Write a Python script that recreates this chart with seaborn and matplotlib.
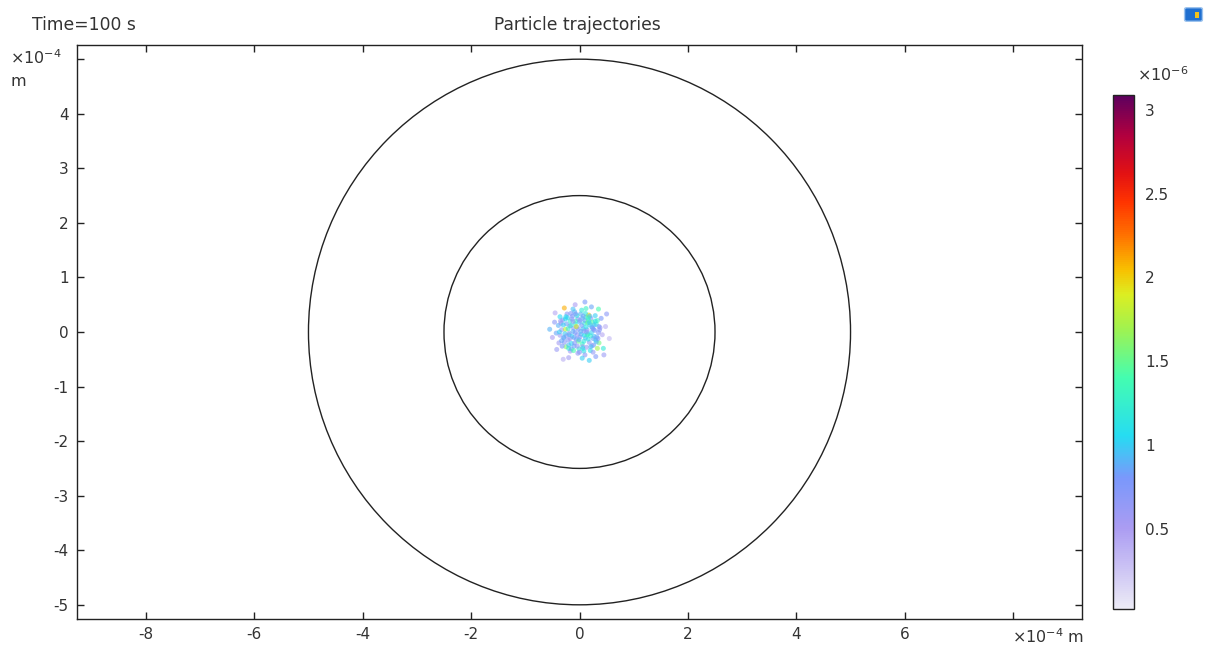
import matplotlib
matplotlib.use("Agg")
import matplotlib.pyplot as plt
import seaborn as sns
import numpy as np
import pandas as pd
from matplotlib.colors import LinearSegmentedColormap, Normalize
from matplotlib.patches import Circle, FancyBboxPatch
import matplotlib.cm as cm

# ---------------- data (x, y in 1e-4 m ; value in 1e-6) ----------------
px = [0.02, -0.11, 0.15, -0.06, 0.09, -0.19, 0.23, -0.03, 0.05, -0.24,
      0.18, -0.15, 0.27, -0.29, 0.12, -0.13, 0.31, -0.33, 0.02, -0.01,
      0.21, -0.22, 0.26, -0.25, 0.35, -0.36, 0.08, -0.09, 0.33, -0.31,
      0.07, -0.04, 0.11, -0.08, 0.14, -0.14, 0.04, -0.02, 0.19, -0.18,
      0.16, -0.21, 0.10, -0.07, 0.01, -0.12, 0.22, -0.26, 0.06, -0.05,
      0.28, -0.17, 0.13, -0.20, 0.24, -0.28, 0.30, -0.10, 0.17, -0.16,
      0.38, -0.39, 0.04, -0.03, 0.29, -0.32, 0.36, -0.23, 0.20, -0.17,
      0.42, -0.43, 0.12, 0.10, -0.12, -0.38, 0.33, 0.40, -0.36, 0.25,
      0.48, -0.46, 0.05, -0.08, 0.44, -0.42, 0.22, -0.28, 0.30, -0.20,
      0.55, -0.50, 0.10, 0.35, -0.45, 0.50, 0.45, -0.55, -0.30, 0.18,
      0.00, -0.09, 0.08, 0.25, -0.27, 0.17, -0.14, 0.03, -0.05, 0.12,
      -0.17, 0.20, 0.05, -0.02, 0.09, -0.10, 0.15, -0.24, 0.27, -0.21,
      0.32, -0.34, 0.06, -0.07, 0.19, -0.20, 0.26, -0.29, 0.14, -0.12,
      0.36, -0.37, 0.00, 0.11, -0.15, 0.23, -0.25, 0.31, -0.06, 0.08,
      -0.30, 0.34, -0.04, 0.16, -0.19, 0.01, 0.29, -0.33, 0.21, -0.11,
      0.13, -0.26, 0.37, -0.01, 0.24, -0.16, 0.07, -0.35, 0.18, -0.08]
py = [0.01, 0.07, -0.04, -0.13, 0.16, -0.02, 0.09, 0.24, -0.22, 0.15,
      -0.19, -0.21, -0.08, -0.11, 0.27, 0.29, 0.14, 0.04, 0.33, -0.31,
      0.25, 0.26, -0.24, -0.27, -0.01, -0.06, -0.35, 0.37, 0.21, 0.22,
      0.06, -0.05, -0.11, 0.15, 0.04, -0.08, 0.12, -0.17, 0.13, 0.11,
      -0.13, -0.15, 0.21, 0.20, -0.09, 0.01, -0.01, 0.05, -0.27, 0.30,
      0.03, 0.20, -0.28, -0.24, 0.18, -0.19, -0.15, -0.26, 0.31, 0.34,
      0.08, 0.12, 0.40, -0.39, 0.30, -0.26, -0.20, 0.33, -0.34, -0.35,
      -0.05, -0.02, 0.43, -0.42, 0.42, -0.20, -0.30, 0.25, 0.28, -0.37,
      0.10, 0.18, -0.48, 0.50, -0.30, -0.32, 0.46, 0.44, -0.45, -0.47,
      -0.12, -0.10, 0.55, 0.42, 0.35, 0.33, -0.42, 0.05, -0.50, -0.52,
      0.18, -0.20, -0.17, -0.12, -0.03, 0.21, 0.24, -0.04, 0.09, 0.09,
      -0.12, -0.07, 0.25, 0.05, -0.06, -0.10, 0.17, -0.07, 0.13, 0.06,
      -0.09, 0.16, -0.30, 0.33, 0.29, -0.30, 0.05, -0.10, -0.05, 0.19,
      0.10, 0.00, -0.37, 0.34, -0.31, -0.25, 0.28, -0.18, 0.10, 0.02,
      0.13, -0.12, -0.26, 0.26, -0.05, 0.21, 0.20, -0.16, -0.27, -0.34,
      0.00, 0.24, 0.04, -0.14, 0.07, 0.12, 0.29, 0.20, 0.17, -0.01]
pv = [0.90, 0.70, 1.10, 0.80, 1.20, 0.60, 1.00, 0.75, 1.30, 0.85,
      0.65, 1.05, 0.95, 0.70, 1.40, 0.80, 1.15, 0.60, 0.90, 1.25,
      0.70, 1.00, 0.85, 1.60, 0.75, 0.55, 1.10, 0.90, 1.35, 0.80,
      1.00, 0.65, 0.90, 1.20, 0.70, 1.05, 0.80, 1.50, 0.95, 0.60,
      1.10, 0.75, 0.85, 1.30, 0.70, 0.90, 1.00, 1.80, 0.65, 1.15,
      0.80, 1.25, 0.60, 0.95, 1.45, 0.70, 1.05, 0.85, 2.00, 0.75,
      0.50, 0.90, 1.20, 0.65, 1.00, 0.80, 1.55, 0.70, 1.10, 0.60,
      0.45, 0.85, 1.30, 0.70, 0.95, 0.55, 1.70, 0.80, 1.05, 0.65,
      0.40, 0.70, 1.00, 0.50, 1.20, 0.60, 0.85, 2.10, 0.75, 0.55,
      0.35, 0.50, 0.80, 1.40, 0.45, 0.70, 0.60, 0.90, 0.40, 1.00,
      0.95, 0.75, 1.15, 0.85, 1.00, 1.30, 0.70, 0.90, 0.80, 1.10,
      0.60, 1.20, 0.90, 0.75, 1.05, 0.85, 1.50, 0.70, 0.95, 1.25,
      0.85, 0.70, 1.10, 0.80, 0.95, 1.20, 0.75, 0.90, 1.35, 0.65,
      0.80, 1.00, 0.70, 1.15, 0.85, 0.60, 1.05, 0.90, 1.90, 0.75,
      1.00, 0.80, 0.65, 1.25, 0.90, 0.70, 1.10, 0.85, 0.95, 1.40,
      0.75, 1.05, 0.70, 0.90, 0.80, 1.15, 0.85, 0.60, 1.00, 0.80]

circle_radii = [5.0, 2.5]
x_ticks = [-8, -6, -4, -2, 0, 2, 4, 6, 8]
y_ticks = [-5, -4, -3, -2, -1, 0, 1, 2, 3, 4, 5]
cb_ticks = [0.5, 1, 1.5, 2, 2.5, 3]
vmin, vmax = 0.02, 3.09

df = pd.DataFrame({"x": px, "y": py, "v": pv})

# ---------------- colormap (COMSOL-like rainbow light) ----------------
anchors = [(0.02, "#ecebf6"), (0.5, "#ab9cf2"), (0.8, "#7a98fb"),
           (1.05, "#26dcf2"), (1.4, "#44fdb0"), (1.7, "#a2f24e"),
           (1.9, "#dcee22"), (2.05, "#f8c000"), (2.25, "#ff7400"),
           (2.45, "#ff3400"), (2.62, "#e31212"), (2.85, "#b2003e"),
           (3.09, "#5e005e")]
cmap = LinearSegmentedColormap.from_list(
    "rl", [((v - vmin) / (vmax - vmin), c) for v, c in anchors])
norm = Normalize(vmin=vmin, vmax=vmax)

# ---------------- figure ----------------
sns.set_style("white")
plt.rcParams["font.family"] = ["DejaVu Sans"]
tc = "#333333"
W, H = 1206, 648
fig = plt.figure(figsize=(W / 100, H / 100), dpi=100)
ax = fig.add_axes([77 / W, 1 - 619 / H, (1082 - 77) / W, (619 - 45) / H])
cax = fig.add_axes([1113 / W, 1 - 609 / H, 21 / W, (609 - 95) / H])

for r in circle_radii:
    ax.add_patch(Circle((0, 0), r, fill=False, ec="#222222", lw=1.0))

sns.scatterplot(data=df, x="x", y="y", hue="v", palette=cmap, hue_norm=norm,
                s=13, linewidth=0, alpha=0.6, legend=False, ax=ax)

ax.set_xlim(-9.27, 9.27)
ax.set_ylim(-5.26, 5.26)
ax.set_xlabel("")
ax.set_ylabel("")
ax.set_xticks(x_ticks)
ax.set_xticklabels([str(t) if t != 8 else "" for t in x_ticks])
ax.set_yticks(y_ticks)
ax.set_yticklabels([str(t) if t != 5 else "" for t in y_ticks])
ax.tick_params(direction="in", length=5, width=1, colors="#222222",
               labelcolor=tc, labelsize=11, top=True, right=True,
               bottom=True, left=True, pad=6)
for s in ax.spines.values():
    s.set_color("#222222")
    s.set_linewidth(1.0)
    s.set_visible(True)

# colorbar
sm = cm.ScalarMappable(norm=norm, cmap=cmap)
cb = fig.colorbar(sm, cax=cax)
cb.set_ticks(cb_ticks)
cb.set_ticklabels(["0.5", "1", "1.5", "2", "2.5", "3"])
cax.tick_params(direction="in", length=4, width=1, colors="#222222",
                labelcolor=tc, labelsize=11, left=True, right=True, pad=8)
cb.outline.set_edgecolor("#222222")
cb.outline.set_linewidth(1.0)

# texts
fs = 12.3
fig.text(32 / W, 1 - 25 / H, "Time=100 s", fontsize=fs, color=tc,
         ha="left", va="center")
fig.text(577 / W, 1 - 25 / H, "Particle trajectories", fontsize=fs,
         color=tc, ha="center", va="center")
fig.text(10 / W, 1 - 58 / H, r"$\times10^{-4}$", fontsize=11.5, color=tc,
         ha="left", va="center")
fig.text(10 / W, 1 - 81 / H, "m", fontsize=11.5, color=tc,
         ha="left", va="center")
fig.text(1012 / W, 1 - 637 / H, r"$\times10^{-4}$ m", fontsize=11.5,
         color=tc, ha="left", va="center")
fig.text(1137 / W, 1 - 75 / H, r"$\times10^{-6}$", fontsize=11.5, color=tc,
         ha="left", va="center")

# small logo in the corner
fig.add_artist(FancyBboxPatch((1187 / W, 1 - 20 / H), 13 / W, 11 / H,
                              boxstyle="round,pad=0.002", fc="#1f6fd0",
                              ec="#9ec4ee", lw=1, transform=fig.transFigure))
fig.add_artist(FancyBboxPatch((1195 / W, 1 - 18 / H), 4 / W, 6 / H,
                              boxstyle="square,pad=0", fc="#f2c21a",
                              ec="none", transform=fig.transFigure))

fig.savefig("out.png", dpi=100)
